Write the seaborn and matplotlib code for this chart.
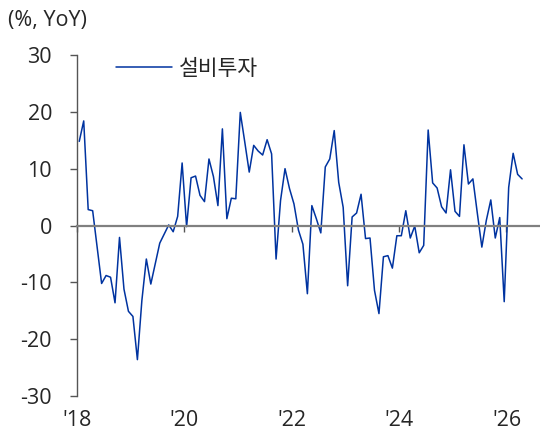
import numpy as np
import pandas as pd
import matplotlib
matplotlib.use("Agg")
import matplotlib.pyplot as plt
import seaborn as sns

# monthly YoY, Jan 2018 - Apr 2026
capex = [14.8, 18.4, 2.8, 2.6, -3.8, -10.2, -8.8, -9.1, -13.6, -2.1, -11.2, -15.1,
         -16.0, -23.6, -13.2, -5.9, -10.3, -6.7, -3.1, -1.5, 0.1, -1.1, 1.6, 11.0,
         -0.2, 8.4, 8.7, 5.3, 4.2, 11.7, 8.6, 3.5, 17.0, 1.2, 4.8, 4.7,
         19.9, 14.7, 9.4, 14.1, 13.1, 12.4, 15.1, 12.6, -5.9, 4.4, 10.0, 6.5,
         3.8, -0.8, -3.3, -12.0, 3.5, 1.2, -1.3, 10.3, 11.7, 16.7, 7.6, 3.2,
         -10.6, 1.5, 2.2, 5.5, -2.3, -2.2, -11.4, -15.5, -5.5, -5.3, -7.5, -1.8,
         -1.8, 2.6, -2.2, -0.1, -4.8, -3.5, 16.8, 7.5, 6.6, 3.3, 2.2, 9.8,
         2.5, 1.6, 14.2, 7.3, 8.2, 2.1, -3.8, 0.9, 4.5, -2.2, 1.4, -13.4,
         6.7, 12.7, 9.0, 8.2]
months = pd.date_range("2018-01-01", periods=len(capex), freq="MS")
year_labels = ["'18", "'20", "'22", "'24", "'26"]

df = pd.DataFrame({"idx": np.arange(len(capex)), "month": months, "value": capex})

sns.set_style("white")
plt.rcParams["font.family"] = ["Open Sans", "Noto Sans CJK KR", "DejaVu Sans"]
plt.rcParams["axes.unicode_minus"] = False
fs = 15.5

fig = plt.figure(figsize=(5.4, 4.32), dpi=100)
ax = fig.add_axes([0.1426, 0.0833, 0.8574, 0.7894])

sns.lineplot(data=df, x="idx", y="value", ax=ax, color="#0033a0", linewidth=1.1,
             label="설비투자")

ax.set_xlim(-0.5, 103)
ax.set_ylim(-30, 30)
ax.set_yticks(np.arange(-30, 31, 10))
ax.tick_params(axis="y", direction="out", length=5, width=1, color="#555555",
               labelsize=fs, pad=13, left=True)

# x axis drawn at zero
ax.spines["bottom"].set_position(("data", 0))
ax.spines["bottom"].set_color("#808080")
ax.spines["bottom"].set_linewidth(1.6)
ax.spines["left"].set_color("#555555")
ax.spines["left"].set_linewidth(1.0)
ax.spines["top"].set_visible(False)
ax.spines["right"].set_visible(False)

tick_pos = [24 * k - 0.5 for k in range(len(year_labels))]
ax.set_xticks(tick_pos)
ax.set_xticklabels([])
ax.tick_params(axis="x", direction="out", length=4, width=1, color="#555555", bottom=True)

sec = ax.secondary_xaxis("bottom")
sec.set_xticks(tick_pos)
sec.set_xticklabels(year_labels)
sec.tick_params(length=0, labelsize=fs, pad=10)
for s in sec.spines.values():
    s.set_visible(False)

ax.set_xlabel("")
ax.set_ylabel("")

leg = ax.legend(loc="upper left", bbox_to_anchor=(0.043, 1.045), frameon=False,
                fontsize=fs, handlelength=2.6, handletextpad=0.3)

fig.text(0.015, 0.952, "(%, YoY)", fontsize=fs, ha="left", va="center")

fig.savefig("out.png", dpi=100)
